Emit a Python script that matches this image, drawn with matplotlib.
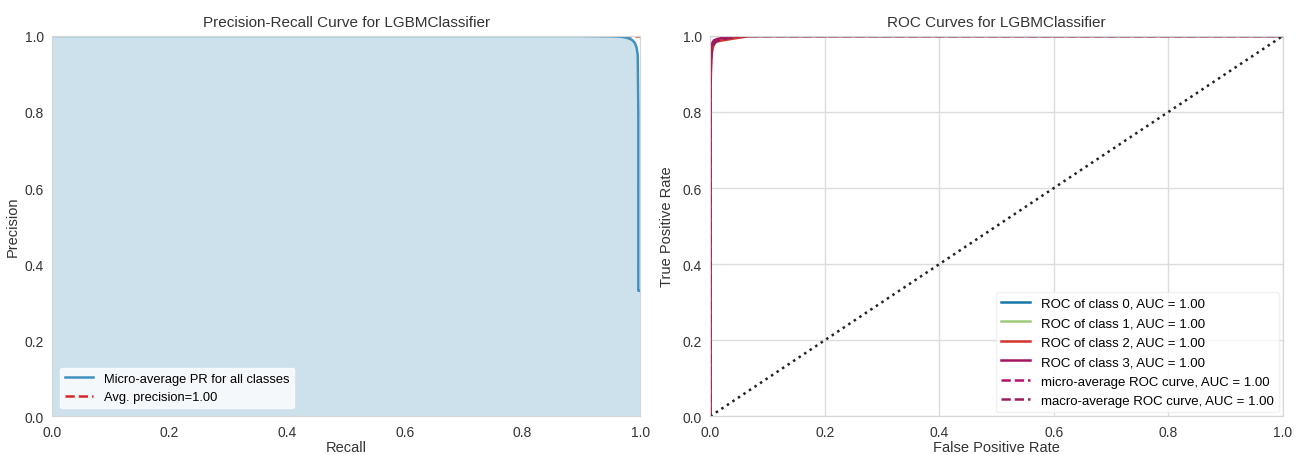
import numpy as np
import matplotlib.pyplot as plt

plt.rcParams['font.family'] = ['Liberation Sans', 'DejaVu Sans']

# === Precision-recall (micro average) ===
recall = [0.0, 0.50, 0.90, 0.955, 0.968, 0.978, 0.986, 0.991, 0.994, 0.996, 0.997, 0.997, 1.0]
precision = [1.0, 1.0, 1.0, 0.999, 0.998, 0.995, 0.990, 0.982, 0.970, 0.950, 0.80, 0.33, 0.33]
avg_precision = 1.00

# === ROC curves per class ===
roc_fpr = {
    0: [0.0, 0.0, 0.002, 0.004, 0.008, 0.015, 0.030, 0.050, 1.0],
    1: [0.0, 0.0, 0.002, 0.004, 0.008, 0.015, 0.030, 0.060, 1.0],
    2: [0.0, 0.0, 0.002, 0.005, 0.010, 0.020, 0.040, 0.070, 1.0],
    3: [0.0, 0.0, 0.001, 0.003, 0.006, 0.012, 0.025, 0.045, 1.0],
}
roc_tpr = {
    0: [0.0, 0.90, 0.960, 0.975, 0.985, 0.990, 0.995, 1.0, 1.0],
    1: [0.0, 0.88, 0.955, 0.970, 0.982, 0.988, 0.994, 1.0, 1.0],
    2: [0.0, 0.85, 0.950, 0.975, 0.985, 0.988, 0.993, 1.0, 1.0],
    3: [0.0, 0.92, 0.965, 0.980, 0.988, 0.992, 0.996, 1.0, 1.0],
}
micro_fpr = [0.0, 0.0, 0.002, 0.005, 0.010, 0.020, 0.040, 1.0]
micro_tpr = [0.0, 0.92, 0.965, 0.980, 0.988, 0.993, 1.0, 1.0]
macro_fpr = [0.0, 0.0, 0.002, 0.005, 0.010, 0.020, 0.050, 1.0]
macro_tpr = [0.0, 0.90, 0.960, 0.977, 0.986, 0.991, 1.0, 1.0]
class_colors = ['#1479a8', '#9dcb7b', '#d2352a', '#a3155f']
micro_color = '#b0136a'
macro_color = '#9b1b5e'

fig = plt.figure(figsize=(13.01, 4.56), dpi=100)
ax1 = fig.add_axes([0.040, 0.085, 0.452, 0.834])
ax2 = fig.add_axes([0.546, 0.085, 0.440, 0.834])

ticks = np.arange(0, 1.01, 0.2)
for ax in (ax1, ax2):
    ax.set_facecolor('white')
    ax.grid(True, color='#dcdcdc', linewidth=1.0)
    ax.set_axisbelow(True)
    for s in ax.spines.values():
        s.set_color('#d5d5d5')
        s.set_zorder(5)
    ax.tick_params(length=0, labelsize=10, colors='#333333', pad=6)
    ax.set_xlim(0, 1)
    ax.set_ylim(0, 1)
    ax.set_xticks(ticks)
    ax.set_yticks(ticks)
    ax.set_xticklabels([f'{v:.1f}' for v in ticks])
    ax.set_yticklabels([f'{v:.1f}' for v in ticks])

# left panel
ax1.axhline(avg_precision, color='#d62728', ls='--', lw=1.8, zorder=0.5,
            label=f'Avg. precision={avg_precision:.2f}')
ax1.fill_between(recall, precision, color='#cde1ec', lw=0, zorder=1)
ax1.plot(recall, precision, color='#3f92c0', lw=1.8, zorder=2,
         label='Micro-average PR for all classes')
ax1.set_title('Precision-Recall Curve for LGBMClassifier', fontsize=11, color='#333333', pad=7)
ax1.set_xlabel('Recall', fontsize=10.5, color='#333333', labelpad=1)
ax1.set_ylabel('Precision', fontsize=10.5, color='#333333', labelpad=3)
h, l = ax1.get_legend_handles_labels()
leg1 = ax1.legend(h[::-1], l[::-1], loc='lower left', fontsize=9.3, frameon=True,
                  handlelength=2.2, borderaxespad=0.6)
leg1.get_frame().set_facecolor('white')
leg1.get_frame().set_alpha(0.8)
leg1.get_frame().set_edgecolor('white')

# right panel
for k in range(4):
    ax2.plot(roc_fpr[k], roc_tpr[k], color=class_colors[k], lw=1.8,
             label=f'ROC of class {k}, AUC = 1.00')
ax2.plot(micro_fpr, micro_tpr, color=micro_color, ls='--', lw=1.8,
         label='micro-average ROC curve, AUC = 1.00')
ax2.plot(macro_fpr, macro_tpr, color=macro_color, ls='--', lw=1.8,
         label='macro-average ROC curve, AUC = 1.00')
ax2.plot([0, 1], [0, 1], color='#222222', ls=':', lw=1.8)
ax2.set_title('ROC Curves for LGBMClassifier', fontsize=11, color='#333333', pad=7)
ax2.set_xlabel('False Positive Rate', fontsize=10.5, color='#333333', labelpad=1)
ax2.set_ylabel('True Positive Rate', fontsize=10.5, color='#333333', labelpad=6)
leg2 = ax2.legend(loc='lower right', fontsize=9.5, frameon=True, handlelength=2.2,
                  labelspacing=0.55, borderaxespad=0.3)
leg2.get_frame().set_facecolor('white')
leg2.get_frame().set_alpha(0.8)
leg2.get_frame().set_edgecolor('#eeeeee')

fig.savefig('out.png', dpi=100, facecolor='white')
